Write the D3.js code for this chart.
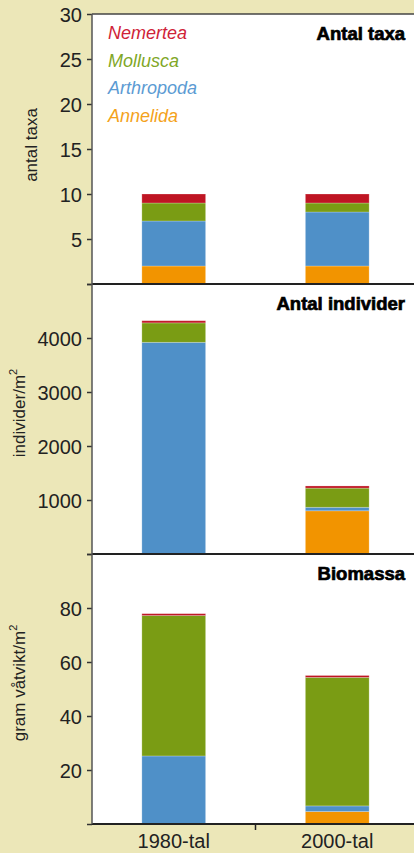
<!DOCTYPE html>
<html><head><meta charset="utf-8">
<script src="https://cdn.jsdelivr.net/npm/d3@7/dist/d3.min.js"></script>
<style>
html,body{margin:0;padding:0;background:#ECE7B8;}
svg{display:block;font-family:"Liberation Sans",Arial,sans-serif;}
</style></head>
<body><svg id="c" width="414" height="853"></svg>
<script>
// ---- data ----
const categories = ["1980-tal", "2000-tal"];
const taxa = ["Annelida", "Arthropoda", "Mollusca", "Nemertea"];
const taxaColors = ["#F29400", "#4F90C8", "#7A9C14", "#BF1523"];
const legendColors = ["#F4A21A", "#5C9BD3", "#7FA727", "#CF2338"];
// values per category, in taxa order
const antalTaxa = [[2, 5, 2, 1], [2, 6, 1, 1]];
const antalIndivider = [[10, 3910, 360, 40], [800, 65, 355, 40]];
const biomassa = [[0.2, 25, 52, 0.7], [4.6, 2.1, 47.6, 0.7]];
const taxaTicks = [0, 5, 10, 15, 20, 25, 30];
const indTicks = [0, 1000, 2000, 3000, 4000, 5000];
const bioTicks = [0, 20, 40, 60, 80, 100];

const panels = [
  {title: "Antal taxa", ylabel: "antal taxa", sup: false, data: antalTaxa, ticks: taxaTicks, max: 30, labelled: [5,10,15,20,25,30], top: 14, bottom: 284},
  {title: "Antal individer", ylabel: "individer/m", sup: true, data: antalIndivider, ticks: indTicks, max: 5000, labelled: [1000,2000,3000,4000], top: 284, bottom: 554},
  {title: "Biomassa", ylabel: "gram våtvikt/m", sup: true, data: biomassa, ticks: bioTicks, max: 100, labelled: [20,40,60,80], top: 554, bottom: 824}
];

const svg = d3.select("#c");
const x0 = 92, x1 = 419;
const x = d3.scaleBand().domain(categories).range([x0, x1]).paddingInner(0.61).paddingOuter(0.305);

// white plot area
svg.append("rect").attr("x", x0).attr("y", 14).attr("width", x1 - x0).attr("height", 824 - 14).attr("fill", "#fff");

panels.forEach((p, pi) => {
  const y = d3.scaleLinear().domain([0, p.max]).range([p.bottom, p.top]);
  const g = svg.append("g");
  categories.forEach((c, ci) => {
    let acc = 0;
    p.data[ci].forEach((v, ti) => {
      g.append("rect")
        .attr("x", x(c)).attr("width", x.bandwidth())
        .attr("y", y(acc + v)).attr("height", y(acc) - y(acc + v))
        .attr("fill", taxaColors[ti])
        .attr("stroke", "#fff").attr("stroke-opacity", 0.3).attr("stroke-width", 0.8);
      acc += v;
    });
  });
  // axis
  const ax = d3.axisLeft(y).tickValues(p.ticks).tickSize(5).tickPadding(5)
    .tickFormat(d => p.labelled.includes(d) ? d : "");
  const ag = svg.append("g").attr("transform", `translate(${x0},0)`).call(ax);
  ag.select(".domain").remove();
  ag.selectAll("line").attr("stroke", "#333").attr("stroke-width", 1.5);
  ag.selectAll("text").attr("font-size", 20).attr("fill", "#222").attr("dy", "0.35em");
  // y label
  const cy = (p.top + p.bottom) / 2 - (pi === 0 ? 4 : 6);
  const lx = pi === 0 ? 37 : 25;
  const t = svg.append("text").attr("transform", `translate(${lx},${cy}) rotate(-90)`)
    .attr("text-anchor", "middle").attr("font-size", 17).attr("fill", "#222").text(p.ylabel);
  if (p.sup) t.append("tspan").attr("font-size", 11).attr("dy", "-0.7em").text("2");
  // title
  svg.append("text").attr("x", 405).attr("y", p.top + 26).attr("text-anchor", "end")
    .attr("font-size", 18.5).attr("font-weight", "bold").attr("fill", "#000")
    .attr("stroke", "#000").attr("stroke-width", 0.7).text(p.title);
  // panel bottom line
  svg.append("line").attr("x1", x0).attr("x2", 414).attr("y1", p.bottom).attr("y2", p.bottom)
    .attr("stroke", "#222").attr("stroke-width", 2);
});

// top line and left axis
svg.append("line").attr("x1", x0).attr("x2", 414).attr("y1", 14).attr("y2", 14).attr("stroke", "#444").attr("stroke-width", 1.5);
svg.append("line").attr("x1", x0).attr("x2", x0).attr("y1", 14).attr("y2", 824).attr("stroke", "#555").attr("stroke-width", 1.5);

// legend
const legendOrder = [3, 2, 1, 0];
legendOrder.forEach((ti, i) => {
  svg.append("text").attr("x", 108).attr("y", 39 + i * 27.5)
    .attr("font-size", 18).attr("font-style", "italic").attr("fill", legendColors[ti]).text(taxa[ti]);
});

// x axis
const xb = d3.axisBottom(x).tickSize(0).tickPadding(10);
const xg = svg.append("g").attr("transform", "translate(0,824)").call(xb);
xg.select(".domain").remove();
xg.selectAll("text").attr("font-size", 20).attr("fill", "#222");
svg.append("line").attr("x1", (x0 + x1) / 2).attr("x2", (x0 + x1) / 2).attr("y1", 824).attr("y2", 830)
  .attr("stroke", "#222").attr("stroke-width", 1.5);
</script></body></html>
